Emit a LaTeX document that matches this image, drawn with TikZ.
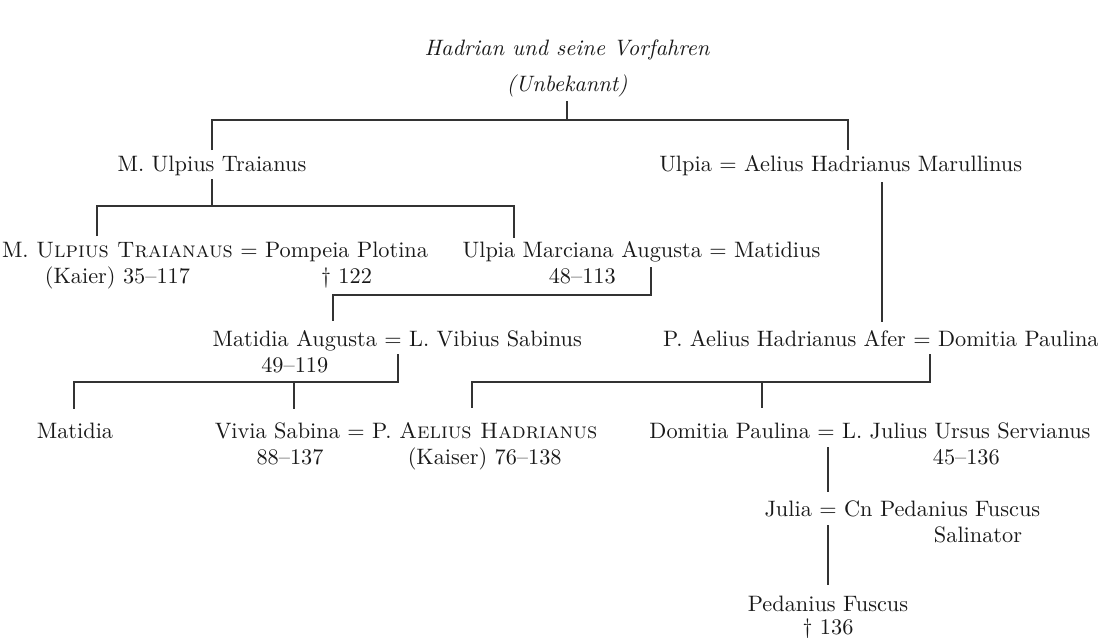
\documentclass[tikz,border=0pt]{standalone}
\usepackage{fontspec}
\setmainfont{lmroman10-regular.otf}[ItalicFont=lmroman10-italic.otf,SmallCapsFont=lmromancaps10-regular.otf,Ligatures=TeX]
\usepackage{tikz}
\begin{document}
\begin{tikzpicture}[x=1pt,y=-1pt,
  t/.style={inner sep=0pt,outer sep=0pt,anchor=base,text=black!90,font=\fontsize{22.3}{25}\selectfont},
  ti/.style={t,font=\fontsize{22.3}{25}\selectfont\itshape},
  eq/.style={t,inner xsep=7.4pt},
  ln/.style={draw=black!80,line width=1.3pt}]
\useasboundingbox (0,0) rectangle (1115,637);

% titles
\node[ti] (title) at (567,55) {Hadrian und seine Vorfahren};
\node[ti] (unk) at (567,91) {(Unbekannt)};

% row A
\node[t] (traj) at (212,171) {M. Ulpius Traianus};
\node[eq] (eqA) at (728,171) {=};
\node[t,anchor=base east] (ulpia) at (eqA.base west) {Ulpia};
\node[t,anchor=base west] (marullinus) at (eqA.base east) {Aelius Hadrianus Marullinus};

% row B
\node[eq] (eqB1) at (249,257) {=};
\node[t,anchor=base east] (traianaus) at (eqB1.base west) {M. \textsc{Ulpius Traianaus}};
\node[t,anchor=base west] (plotina) at (eqB1.base east) {Pompeia Plotina};
\node[t] (d1) at (traianaus.base |- 0,283) {(Kaier) 35--117};
\node[t] (d2) at (plotina.base |- 0,283) {\textdagger~122};
\node[eq] (eqB2) at (718,257) {=};
\node[t,anchor=base east] (marciana) at (eqB2.base west) {Ulpia Marciana Augusta};
\node[t,anchor=base west] (matidius) at (eqB2.base east) {Matidius};
\node[t] (d3) at (marciana.base |- 0,283) {48--113};

% row C
\node[eq] (eqC1) at (393,346) {=};
\node[t,anchor=base east] (matidiaA) at (eqC1.base west) {Matidia Augusta};
\node[t,anchor=base west] (vibius) at (eqC1.base east) {L. Vibius Sabinus};
\node[t] (d4) at (matidiaA.base |- 0,372) {49--119};
\node[eq] (eqC2) at (922,346) {=};
\node[t,anchor=base east] (afer) at (eqC2.base west) {P. Aelius Hadrianus Afer};
\node[t,anchor=base west] (domitia) at (eqC2.base east) {Domitia Paulina};

% row D
\node[t] (matidia) at (75,438) {Matidia};
\node[eq] (eqD1) at (356,438) {=};
\node[t,anchor=base east] (vivia) at (eqD1.base west) {Vivia Sabina};
\node[t,anchor=base west] (hadrian) at (eqD1.base east) {P. \textsc{Aelius Hadrianus}};
\node[t] (d5) at (290,464) {88--137};
\node[t] (d6) at (hadrian.base |- 0,464) {(Kaiser) 76--138};
\node[eq] (eqD2) at (826,438) {=};
\node[t,anchor=base east] (domitia2) at (eqD2.base west) {Domitia Paulina};
\node[t,anchor=base west] (servianus) at (eqD2.base east) {L. Julius Ursus Servianus};
\node[t] (d7) at (servianus.base |- 0,464) {45--136};

% row E
\node[eq] (eqE) at (828,516) {=};
\node[t,anchor=base east] (julia) at (eqE.base west) {Julia};
\node[t,anchor=base west] (pedanius) at (eqE.base east) {Cn Pedanius Fuscus};
\node[t] (salinator) at (978,542) {Salinator};

% row F
\node[t] (fuscus) at (828,611) {Pedanius Fuscus};
\node[t] (d8) at (828,634) {\textdagger~136};

% junction coordinates
\coordinate (kA) at (848,150);
\coordinate (kB0) at (97,236);
\coordinate (kB) at (514,238);
\coordinate (kC1) at (651,267);
\coordinate (kC2) at (333,321);
\coordinate (kU1) at (882,182);
\coordinate (kU2) at (882,322);
\coordinate (kD) at (398,354);
\coordinate (kD1) at (74,409);
\coordinate (kD2) at (294,409);
\coordinate (kE) at (930,354);
\coordinate (kE1) at (472,408);
\coordinate (kE2) at (762,408);

% connectors
\draw[ln] (unk.base |- 0,101) -- (unk.base |- 0,120);
\draw[ln] (traj.base |- 0,150) |- (kA |- 0,120) -- (kA);
\draw[ln] (traj.base |- 0,179) -- (traj.base |- 0,206);
\draw[ln] (kB0) |- (kB |- 0,206) -- (kB);
\draw[ln] (kC1) |- (kC2 |- 0,295) -- (kC2);
\draw[ln] (kU1) -- (kU2);
\draw[ln] (kD) |- (kD1 |- 0,382) -- (kD1);
\draw[ln] (kD2 |- 0,382) -- (kD2);
\draw[ln] (kE) |- (kE1 |- 0,382) -- (kE1);
\draw[ln] (kE2 |- 0,382) -- (kE2);
\draw[ln] (eqE.base |- 0,447) -- (eqE.base |- 0,492);
\draw[ln] (eqE.base |- 0,525) -- (eqE.base |- 0,585);
\end{tikzpicture}
\end{document}
